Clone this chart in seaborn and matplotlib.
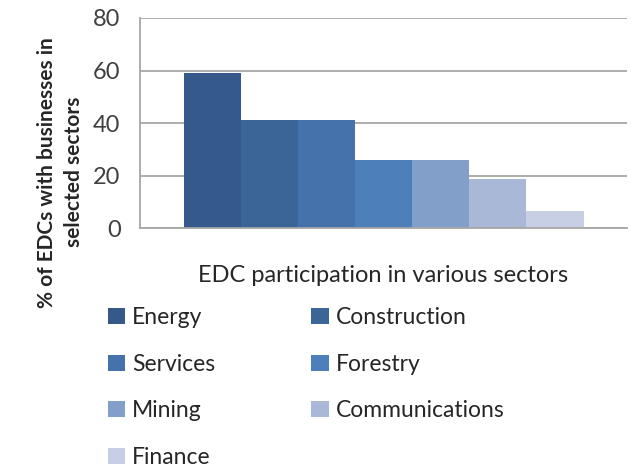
import pandas as pd
import matplotlib
matplotlib.use("Agg")
import matplotlib.pyplot as plt
import seaborn as sns

# data
sectors = ["Energy", "Construction", "Services", "Forestry",
           "Mining", "Communications", "Finance"]
values = [59, 41, 41, 26, 26, 18.5, 6.5]
bar_colors = ["#34598A", "#3B6497", "#4672AB", "#4D80BA",
              "#819FC9", "#A9B8D6", "#C6CFE3"]
group_label = "EDC participation in various sectors"
y_label = "% of EDCs with businesses in\nselected sectors"
y_ticks = [0, 20, 40, 60, 80]

sns.set_theme(style="white")
plt.rcParams["font.family"] = ["Lato", "DejaVu Sans"]

df = pd.DataFrame({"group": [group_label] * len(sectors),
                   "sector": sectors,
                   "value": values})

fig = plt.figure(figsize=(6.41, 4.68), dpi=100)
ax = fig.add_axes([140 / 641, 1 - 228 / 468, 487 / 641, 210 / 468])

sns.barplot(data=df, x="group", y="value", hue="sector", hue_order=sectors,
            palette=bar_colors, width=0.8, saturation=1, linewidth=0,
            ax=ax, legend=True)

grid_c = "#A6A6A6"
half = 0.4 * 487 / 400
ax.set_xlim(-half, half)
ax.set_ylim(0, 80)
ax.set_yticks(y_ticks)
ax.yaxis.grid(True, color=grid_c, linewidth=1.3)
ax.set_axisbelow(True)
for s in ["top", "right"]:
    ax.spines[s].set_visible(False)
ax.spines["left"].set_color(grid_c)
ax.spines["bottom"].set_color(grid_c)
ax.spines["left"].set_linewidth(1.3)
ax.spines["bottom"].set_linewidth(1.3)
ax.set_xticks([-half, half])
ax.set_xticklabels([])
ax.tick_params(axis="x", direction="out", length=7, color=grid_c, width=1.3)
ax.tick_params(axis="y", direction="out", length=7, color=grid_c, width=1.3,
               labelsize=17, labelcolor="#404040", pad=7)
ax.set_ylabel("")
ax.set_xlabel(group_label, fontsize=17, color="#262626", labelpad=16)

fig.text(0.095, 0.632, y_label, rotation=90, ha="center", va="center",
         fontsize=15, fontweight="bold", color="#262626", linespacing=1.45)

# legend filled row by row like the original (matplotlib fills columns)
handles, labels = ax.get_legend_handles_labels()
ax.get_legend().remove()
order = [0, 2, 4, 6, 1, 3, 5]
fig.legend([handles[i] for i in order], [labels[i] for i in order],
           ncol=2, loc="upper left", bbox_to_anchor=(108 / 641, 1 - 307 / 468),
           frameon=False, fontsize=16.5, handlelength=0.75, handleheight=0.7,
           handletextpad=0.3, labelspacing=1.12, columnspacing=4.2,
           borderpad=0, borderaxespad=0, labelcolor="#262626")

fig.savefig("out.png", dpi=100)
